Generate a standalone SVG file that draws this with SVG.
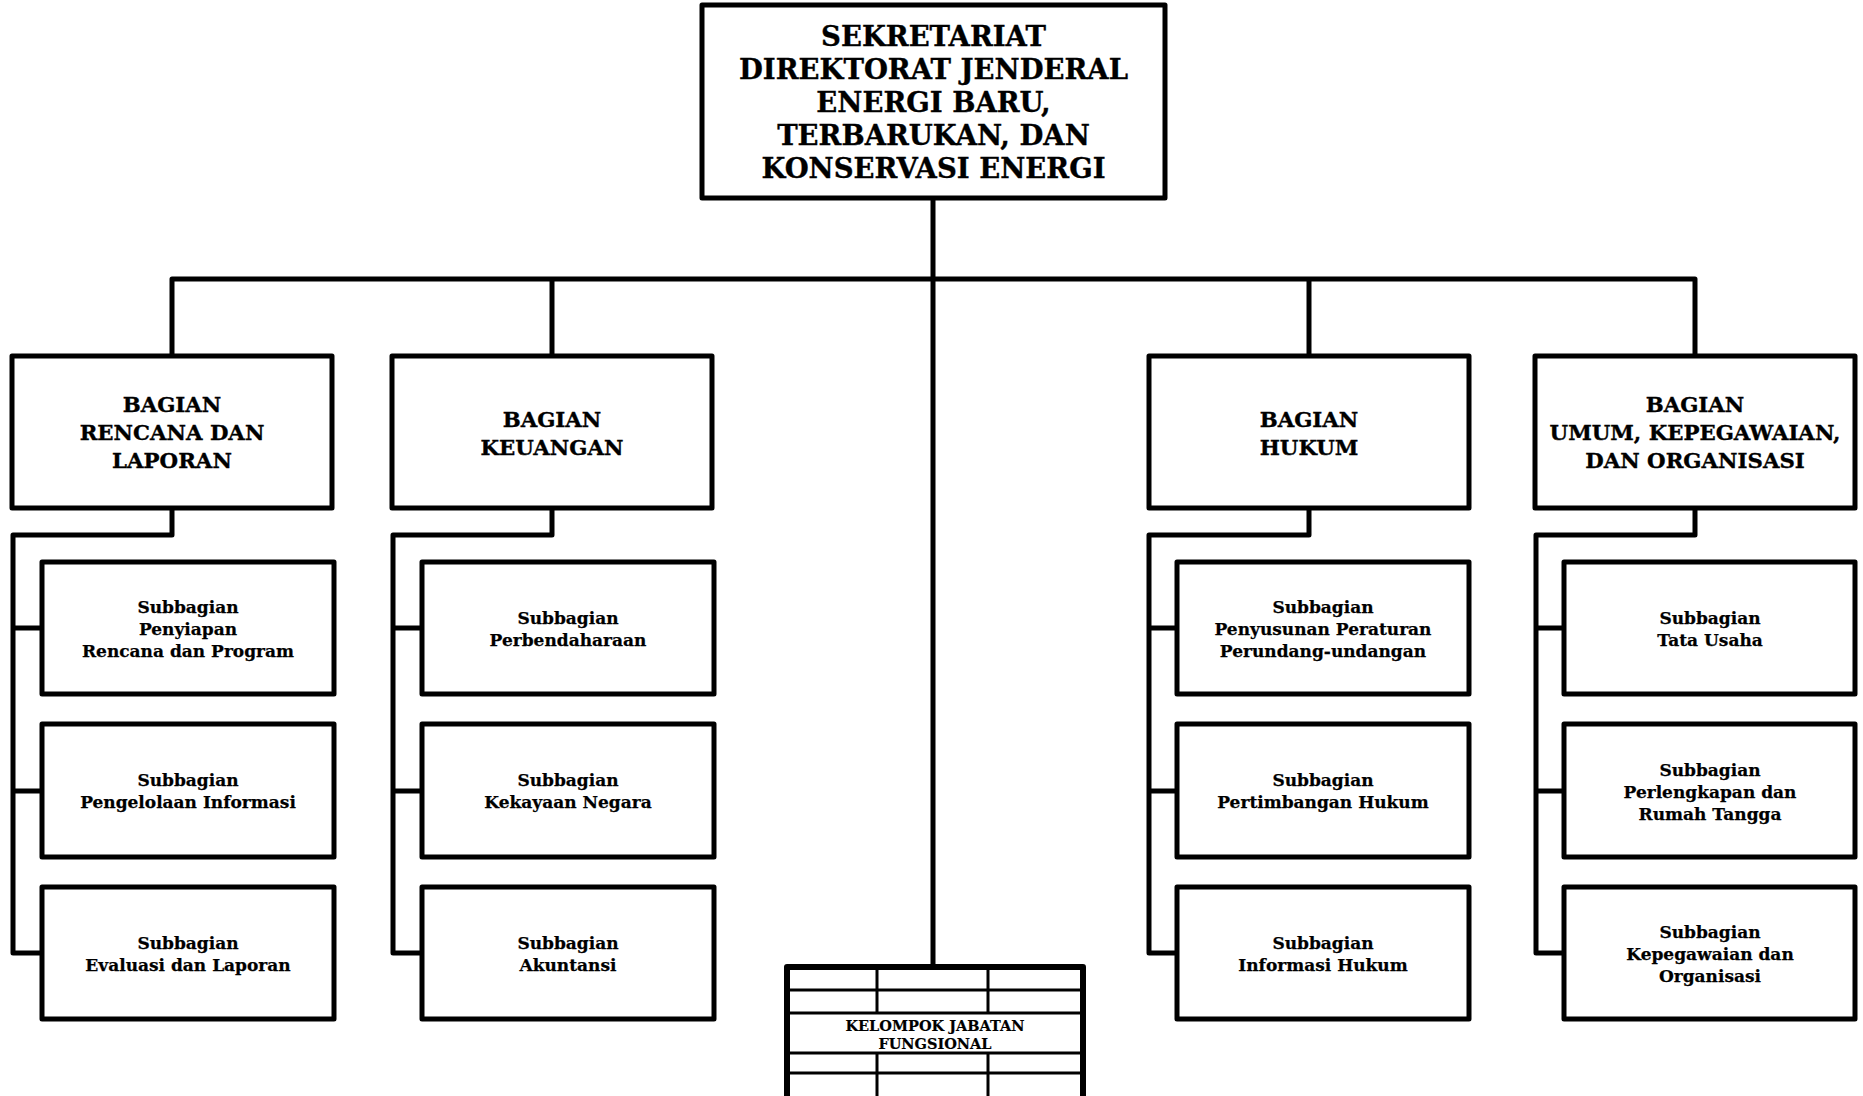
<svg xmlns="http://www.w3.org/2000/svg" width="1863" height="1096" viewBox="0 0 1863 1096">
<style>
.box{fill:#fff;stroke:#000;stroke-width:5;stroke-linejoin:round}
.ln{fill:none;stroke:#000;stroke-width:5;stroke-linejoin:round}
.thin{fill:none;stroke:#000;stroke-width:3}
text{font-family:"DejaVu Serif","Liberation Serif",serif;font-weight:bold;fill:#000;text-anchor:middle;stroke:#000;stroke-width:0.35}
.t1{font-size:27.5px}
.t2{font-size:21.3px}
.t3{font-size:17px;stroke-width:0.25}
.t4{font-size:14.5px;stroke-width:0.2}
</style>
<rect width="1863" height="1096" fill="#fff"/>
<g id="connectors">
<path class="ln" d="M933 198V967"/>
<path class="ln" d="M172 356V279H1695V356"/>
<path class="ln" d="M552 279V356"/>
<path class="ln" d="M1309 279V356"/>
<path class="ln" d="M172 508V535H13V953H42M13 628H42M13 791H42"/>
<path class="ln" d="M552 508V535H393V953H422M393 628H422M393 791H422"/>
<path class="ln" d="M1309 508V535H1149V953H1177M1149 628H1177M1149 791H1177"/>
<path class="ln" d="M1695 508V535H1536V953H1564M1536 628H1564M1536 791H1564"/>
</g>
<g id="sekretariat">
<rect class="box" x="702" y="5" width="463" height="193"/>
<text class="t1" x="933.5" y="46">SEKRETARIAT</text>
<text class="t1" x="933.5" y="79">DIREKTORAT JENDERAL</text>
<text class="t1" x="933.5" y="112">ENERGI BARU,</text>
<text class="t1" x="933.5" y="145">TERBARUKAN, DAN</text>
<text class="t1" x="933.5" y="178">KONSERVASI ENERGI</text>
</g>
<g id="bagian-rencana">
<rect class="box" x="12" y="356" width="320" height="152"/>
<text class="t2" x="172" y="412">BAGIAN</text>
<text class="t2" x="172" y="440">RENCANA DAN</text>
<text class="t2" x="172" y="468">LAPORAN</text>
</g>
<g id="bagian-keuangan">
<rect class="box" x="392" y="356" width="320" height="152"/>
<text class="t2" x="552" y="427">BAGIAN</text>
<text class="t2" x="552" y="455">KEUANGAN</text>
</g>
<g id="bagian-hukum">
<rect class="box" x="1149" y="356" width="320" height="152"/>
<text class="t2" x="1309" y="427">BAGIAN</text>
<text class="t2" x="1309" y="455">HUKUM</text>
</g>
<g id="bagian-umum">
<rect class="box" x="1535" y="356" width="320" height="152"/>
<text class="t2" x="1695" y="412">BAGIAN</text>
<text class="t2" x="1695" y="440">UMUM, KEPEGAWAIAN,</text>
<text class="t2" x="1695" y="468">DAN ORGANISASI</text>
</g>
<g id="sub-penyiapan">
<rect class="box" x="42" y="562" width="292" height="132"/>
<text class="t3" x="188" y="613">Subbagian</text>
<text class="t3" x="188" y="635">Penyiapan</text>
<text class="t3" x="188" y="657">Rencana dan Program</text>
</g>
<g id="sub-pengelolaan">
<rect class="box" x="42" y="724" width="292" height="133"/>
<text class="t3" x="188" y="786">Subbagian</text>
<text class="t3" x="188" y="808">Pengelolaan Informasi</text>
</g>
<g id="sub-evaluasi">
<rect class="box" x="42" y="887" width="292" height="132"/>
<text class="t3" x="188" y="949">Subbagian</text>
<text class="t3" x="188" y="971">Evaluasi dan Laporan</text>
</g>
<g id="sub-perbendaharaan">
<rect class="box" x="422" y="562" width="292" height="132"/>
<text class="t3" x="568" y="624">Subbagian</text>
<text class="t3" x="568" y="646">Perbendaharaan</text>
</g>
<g id="sub-kekayaan">
<rect class="box" x="422" y="724" width="292" height="133"/>
<text class="t3" x="568" y="786">Subbagian</text>
<text class="t3" x="568" y="808">Kekayaan Negara</text>
</g>
<g id="sub-akuntansi">
<rect class="box" x="422" y="887" width="292" height="132"/>
<text class="t3" x="568" y="949">Subbagian</text>
<text class="t3" x="568" y="971">Akuntansi</text>
</g>
<g id="sub-penyusunan">
<rect class="box" x="1177" y="562" width="292" height="132"/>
<text class="t3" x="1323" y="613">Subbagian</text>
<text class="t3" x="1323" y="635">Penyusunan Peraturan</text>
<text class="t3" x="1323" y="657">Perundang-undangan</text>
</g>
<g id="sub-pertimbangan">
<rect class="box" x="1177" y="724" width="292" height="133"/>
<text class="t3" x="1323" y="786">Subbagian</text>
<text class="t3" x="1323" y="808">Pertimbangan Hukum</text>
</g>
<g id="sub-informasi">
<rect class="box" x="1177" y="887" width="292" height="132"/>
<text class="t3" x="1323" y="949">Subbagian</text>
<text class="t3" x="1323" y="971">Informasi Hukum</text>
</g>
<g id="sub-tatausaha">
<rect class="box" x="1564" y="562" width="291" height="132"/>
<text class="t3" x="1710" y="624">Subbagian</text>
<text class="t3" x="1710" y="646">Tata Usaha</text>
</g>
<g id="sub-perlengkapan">
<rect class="box" x="1564" y="724" width="291" height="133"/>
<text class="t3" x="1710" y="776">Subbagian</text>
<text class="t3" x="1710" y="798">Perlengkapan dan</text>
<text class="t3" x="1710" y="820">Rumah Tangga</text>
</g>
<g id="sub-kepegawaian">
<rect class="box" x="1564" y="887" width="291" height="132"/>
<text class="t3" x="1710" y="938">Subbagian</text>
<text class="t3" x="1710" y="960">Kepegawaian dan</text>
<text class="t3" x="1710" y="982">Organisasi</text>
</g>
<g id="kelompok-fungsional">
<rect class="box" x="787" y="967" width="296" height="200" style="stroke-width:6"/>
<path class="thin" d="M787 990H1083M787 1013H1083M787 1053H1083M787 1073H1083"/>
<path class="thin" d="M877 967V1013M988 967V1013M877 1053V1100M988 1053V1100"/>
<text class="t4" x="935" y="1031">KELOMPOK JABATAN</text>
<text class="t4" x="935" y="1049">FUNGSIONAL</text>
</g>
</svg>
